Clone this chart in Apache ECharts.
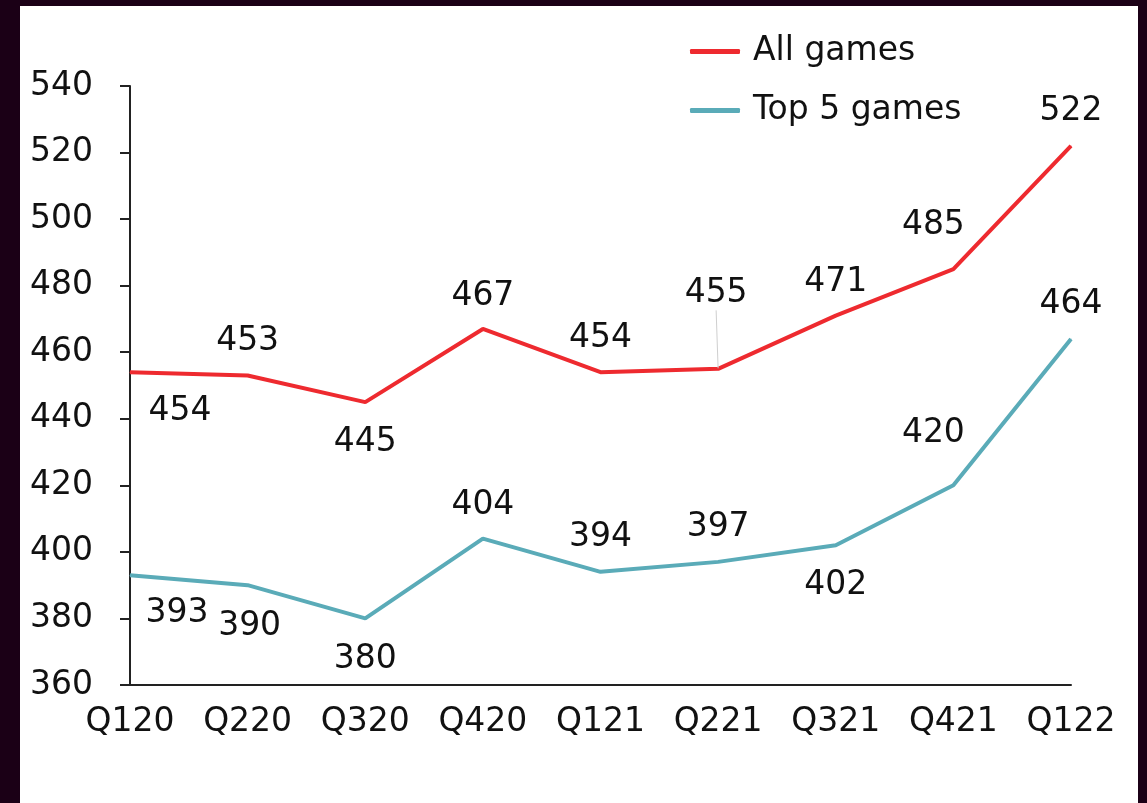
<!DOCTYPE html>
<html><head><meta charset="utf-8">
<script src="https://cdn.jsdelivr.net/npm/echarts@6/dist/echarts.min.js"></script>
<style>
html,body{margin:0;padding:0;background:#1b0016;width:1147px;height:803px;overflow:hidden}
#c{position:absolute;left:20px;top:6px;width:1118px;height:797px;background:#fff}
</style></head><body><div id="c"></div>
<script>
const categories = ['Q120','Q220','Q320','Q420','Q121','Q221','Q321','Q421','Q122'];
const allGames = [454, 453, 445, 467, 454, 455, 471, 485, 522];
const top5Games = [393, 390, 380, 404, 394, 397, 402, 420, 464];
const yTicks = [360, 380, 400, 420, 440, 460, 480, 500, 520, 540];

// label shifts (pixels) relative to each point
const allOffsets = [[50,39],[0,-34],[0,40],[0,-33],[0,-34],[-2,-75],[0,-33],[-20,-44],[0,-34]];
const topOffsets = [[47,38],[2,41],[0,41],[0,-33],[0,-34],[0,-34],[0,40],[-20,-52],[0,-34]];
const offsets = [allOffsets, topOffsets];

const FONT = 'DejaVu Sans';
const FS = 33;
const RED = '#ee2a2f', TEAL = '#5aabb8';

function mk(vals, guideIdx) {
  return vals.map((v, i) => {
    const o = {value: v};
    if (i === guideIdx) o.labelLine = {show: true, lineStyle: {color: '#cfcfcf', width: 1}};
    return o;
  });
}

const chart = echarts.init(document.getElementById('c'));
chart.setOption({
  animation: false,
  backgroundColor: '#fff',
  textStyle: {fontFamily: FONT},
  legend: {
    orient: 'vertical', left: 665, top: 24, itemGap: 26,
    icon: 'roundRect', itemWidth: 50, itemHeight: 5,
    textStyle: {fontFamily: FONT, fontSize: FS, color: '#111', padding: [0, 0, 0, 8]},
    data: ['All games', 'Top 5 games']
  },
  grid: {left: 110, top: 80, width: 941, height: 599, containLabel: false},
  xAxis: {
    type: 'category', data: categories, boundaryGap: false,
    axisLine: {lineStyle: {color: '#222', width: 2}},
    axisTick: {show: false},
    axisLabel: {fontFamily: FONT, fontSize: FS, color: '#111', margin: 21}
  },
  yAxis: {
    type: 'value', min: yTicks[0], max: yTicks[yTicks.length-1], interval: 20,
    axisLine: {show: true, lineStyle: {color: '#222', width: 2}},
    axisTick: {show: true, length: 10, lineStyle: {color: '#222', width: 2}},
    splitLine: {show: false},
    axisLabel: {fontFamily: FONT, fontSize: FS, color: '#111', margin: 37}
  },
  series: [
    {
      name: 'All games', type: 'line', data: mk(allGames, 5),
      symbol: 'circle', symbolSize: 1, showSymbol: true,
      lineStyle: {color: RED, width: 4}, itemStyle: {color: RED},
      label: {show: true, position: 'inside', fontFamily: FONT, fontSize: FS, color: '#111'},
      labelLayout: function (p) {
        const o = offsets[0][p.dataIndex];
        return {dx: o[0], dy: o[1]};
      }
    },
    {
      name: 'Top 5 games', type: 'line', data: mk(top5Games, -1),
      symbol: 'circle', symbolSize: 1, showSymbol: true,
      lineStyle: {color: TEAL, width: 4}, itemStyle: {color: TEAL},
      label: {show: true, position: 'inside', fontFamily: FONT, fontSize: FS, color: '#111'},
      labelLayout: function (p) {
        const o = offsets[1][p.dataIndex];
        return {dx: o[0], dy: o[1]};
      }
    }
  ]
});
</script></body></html>
